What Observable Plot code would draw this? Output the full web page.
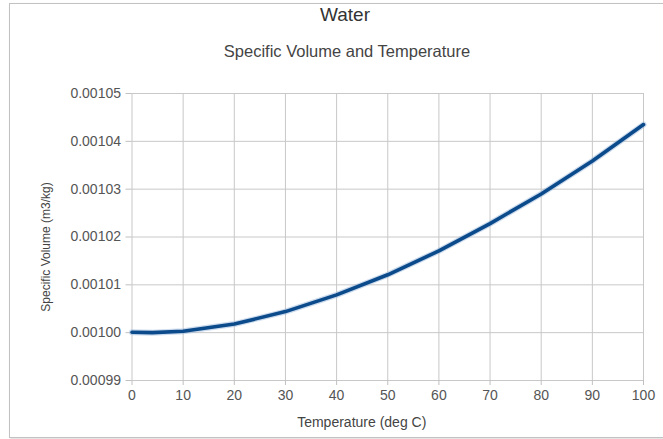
<!DOCTYPE html>
<html>
<head>
<meta charset="utf-8">
<script src="https://cdn.jsdelivr.net/npm/d3@7"></script>
<script src="https://cdn.jsdelivr.net/npm/@observablehq/plot@0.6"></script>
<style>
  html, body { margin: 0; padding: 0; background: #fff; }
  #wrap { position: relative; width: 663px; height: 439px; overflow: hidden; font-family: "Liberation Sans", Arial, sans-serif; }
  #frame { position: absolute; left: 9px; top: 3px; width: 700px; height: 433px; border: 1px solid #c2c2c2; box-shadow: 1px 1px 2px rgba(0,0,0,0.15); }
  #title { position: absolute; left: 0; width: 690px; top: 4px; text-align: center; font-size: 19px; color: #333; }
  #subtitle { position: absolute; left: 0; width: 694px; top: 42px; text-align: center; font-size: 16.5px; color: #444; }
  #chart { position: absolute; left: 0; top: 70px; }
</style>
</head>
<body>
<div id="wrap">
  <div id="frame"></div>
  <div id="title">Water</div>
  <div id="subtitle">Specific Volume and Temperature</div>
  <div id="chart"></div>
</div>
<script>
const temperatures = [0, 4, 10, 20, 30, 40, 50, 60, 70, 80, 90, 100];
const specificVolumes = [0.0010001, 0.0010000, 0.0010003, 0.0010018, 0.0010044, 0.0010079, 0.0010121, 0.0010171, 0.0010228, 0.0010290, 0.0010359, 0.0010435];
const xTicks = [0, 10, 20, 30, 40, 50, 60, 70, 80, 90, 100];
const yTicks = [0.00099, 0.00100, 0.00101, 0.00102, 0.00103, 0.00104, 0.00105];
const xLabel = "Temperature (deg C)";
const yLabel = "Specific Volume (m3/kg)";

const data = temperatures.map((t, i) => ({t, v: specificVolumes[i]}));

const plot = Plot.plot({
  width: 663,
  height: 369,
  marginTop: 23,
  marginBottom: 59,
  marginLeft: 131.5,
  marginRight: 20,
  style: {fontFamily: "Liberation Sans, Arial, sans-serif", fontSize: "14px", color: "#555", background: "transparent"},
  x: {domain: [0, 100]},
  y: {domain: [0.00099, 0.00105]},
  marks: [
    Plot.gridX(xTicks, {stroke: "#c8c8c8", strokeOpacity: 1, strokeWidth: 1}),
    Plot.gridY(yTicks, {stroke: "#c8c8c8", strokeOpacity: 1, strokeWidth: 1}),
    Plot.axisX({ticks: xTicks, tickSize: 5, tickPadding: 5, stroke: "#c0c0c0", color: "#555", fontSize: 14, label: null}),
    Plot.axisY({ticks: yTicks, tickFormat: d3.format(".5f"), tickSize: 6, tickPadding: 5, stroke: "#c0c0c0", color: "#555", fontSize: 14, label: null}),
    Plot.line(data, {x: "t", y: "v", stroke: "#8fb0d6", strokeWidth: 6, strokeOpacity: 0.45}),
    Plot.line(data, {x: "t", y: "v", stroke: "#0b4a8b", strokeWidth: 3.6}),
    Plot.text([yLabel], {frameAnchor: "left", textAnchor: "middle", dx: -86, dy: 10, rotate: -90, fontSize: 12, fill: "#444"}),
    Plot.text([xLabel], {frameAnchor: "bottom", dy: 46, dx: -26, fontSize: 14, fill: "#444"})
  ]
});
document.getElementById("chart").appendChild(plot);
</script>
</body>
</html>
